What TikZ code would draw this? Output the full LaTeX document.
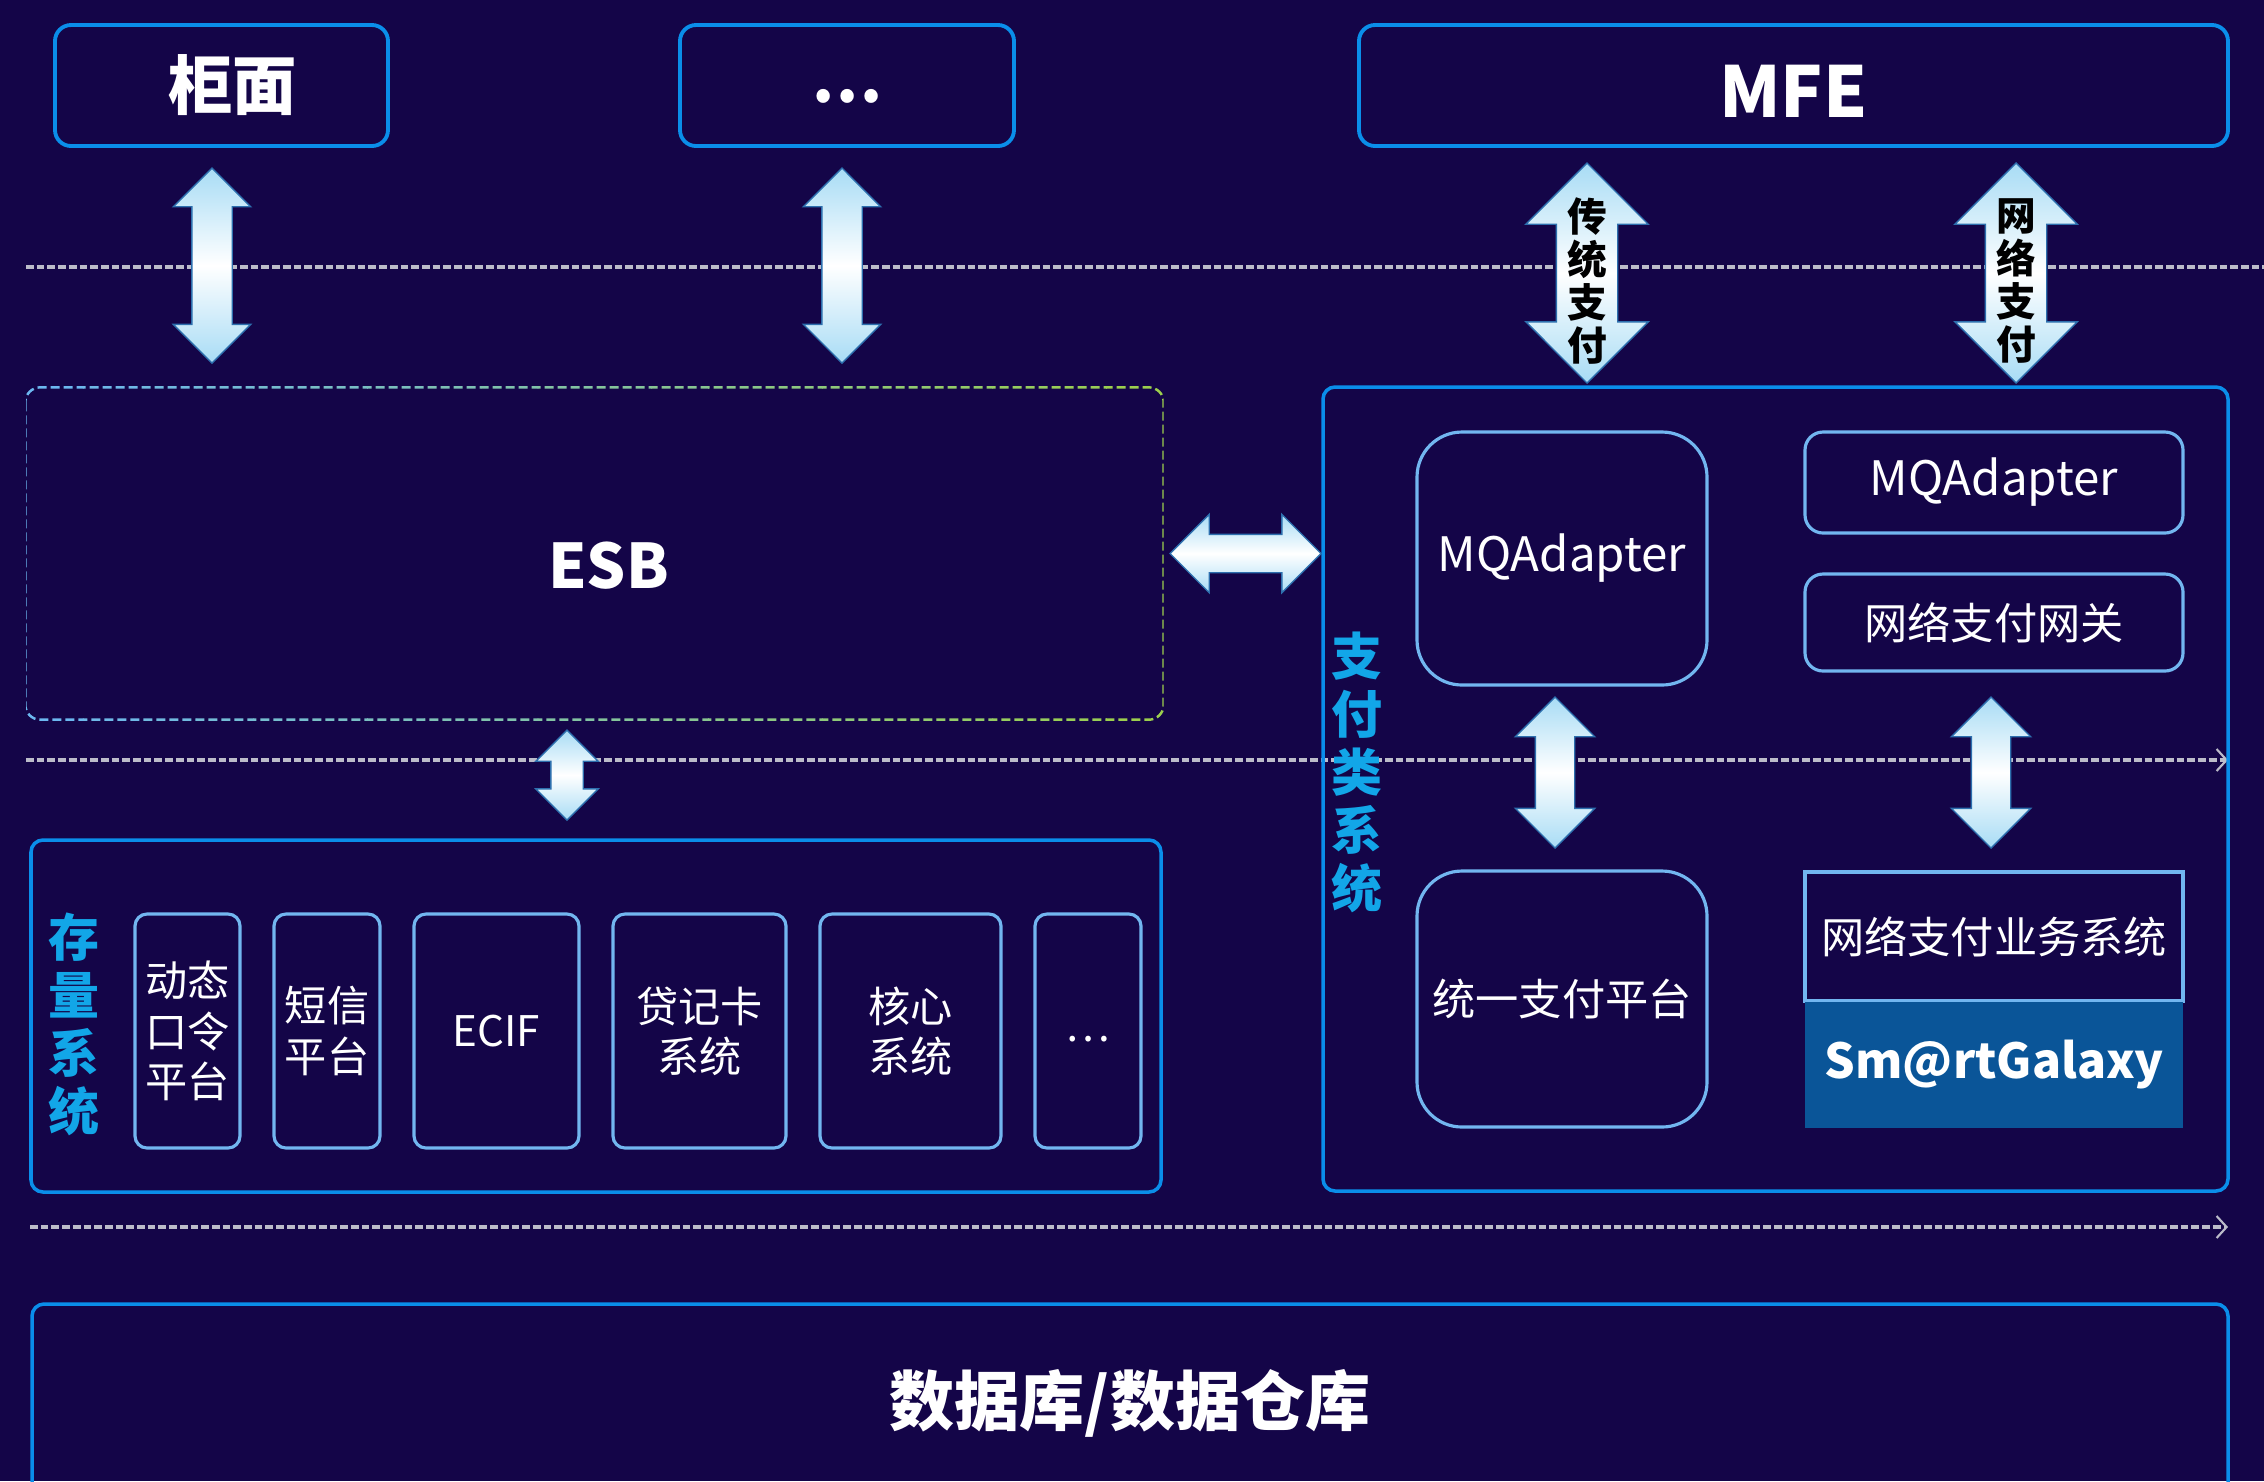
\documentclass[tikz,border=0pt]{standalone}
\usepackage{fontspec}
\setmainfont{Noto Sans CJK SC}
\usetikzlibrary{arrows.meta, positioning, shapes.arrows, calc}

\definecolor{bgnavy}{HTML}{140548}
\definecolor{boxblue}{HTML}{0A8EEA}
\definecolor{innerblue}{HTML}{72B6F0}
\definecolor{lblblue}{HTML}{12A6E8}
\definecolor{dashgray}{HTML}{BCBCCA}
\definecolor{arrowblue}{HTML}{A8DCF5}
\definecolor{arrowedge}{HTML}{2D6FAE}
\definecolor{galaxyblue}{HTML}{0A5598}
\definecolor{esbblue}{HTML}{6CB8F0}
\definecolor{esbgreen}{HTML}{9CCF4E}

% lower a text inside its node without changing the node box
\newcommand{\dropby}[2]{\raisebox{-#1}[\height][\depth]{#2}}

\begin{document}
\begin{tikzpicture}[
    x=0.1mm, y=-0.1mm,
    topbox/.style={rectangle, draw=boxblue, line width=1.1pt, rounded corners=1.6mm,
                   minimum height=12.1mm, outer sep=0pt, text=white},
    group/.style={rectangle, draw=boxblue, line width=1pt, rounded corners=1.2mm},
    sysbox/.style={rectangle, draw=innerblue, line width=0.9pt, rounded corners=1.2mm,
                   minimum height=23.4mm, inner sep=0pt, outer sep=0pt, text=white,
                   align=center, font=\fontsize{12}{14.3}\selectfont},
    paybox/.style={rectangle, draw=innerblue, line width=0.9pt, inner sep=0pt,
                   minimum width=37.8mm, outer sep=0pt, text=white,
                   font=\fontsize{12.3}{14}\selectfont},
    grouplbl/.style={text=lblblue, align=center, inner sep=0pt,
                     font=\bfseries\fontsize{14.5}{16.5}\selectfont},
    arrowlbl/.style={text=black, align=center, inner sep=0pt,
                     font=\bfseries\fontsize{11.3}{12.2}\selectfont},
    fatarrow/.style n args={3}{double arrow, draw=arrowedge, line width=0.4pt,
                   top color=arrowblue, bottom color=arrowblue, middle color=white,
                   inner xsep=0pt, minimum width=1pt,
                   minimum height=#1, inner ysep=#2, double arrow head extend=#3},
    sepline/.style={draw=dashgray, line width=1pt, dash pattern=on 0.77mm off 0.3mm},
    septip/.style={-{Straight Barb[length=1mm, width=2.2mm, line width=0.6pt]}},
    esbline/.style={line width=0.7pt, rounded corners=1.5mm, dash pattern=on 0.9mm off 0.4mm}
]

\fill[bgnavy] (0,0) rectangle (2264,1481);
\useasboundingbox (0,0) rectangle (2264,1481);
\clip (0,0) rectangle (2264,1481);

% layer separators
\coordinate (l1a) at (26,267);
\coordinate (l1b) at (2264,267);
\coordinate (l2a) at (26,760);
\coordinate (l2b) at (2228,760);
\coordinate (l3a) at (30,1227);
\coordinate (l3b) at (2228,1227);
\draw[sepline] (l1a) -- (l1b);
\draw[sepline, septip] (l2a) -- (l2b);
\draw[sepline, septip] (l3a) -- (l3b);

% channels
\node[topbox, minimum width=33.3mm, font=\bfseries\fontsize{18.3}{20}\selectfont]
    (guimian) at (221.5,85.5) {\hspace*{2.2mm}柜面};
\node[topbox, minimum width=33.4mm, right=29.2mm of guimian,
      font=\bfseries\fontsize{18}{20}\selectfont] (chdots) {\dropby{1.1mm}{…}};
\node[topbox, minimum width=86.9mm, right=34.5mm of chdots,
      font=\bfseries\fontsize{20}{22}\selectfont] (mfe) {\dropby{0.55mm}{MFE}};

% ESB
\node[minimum width=113.7mm, minimum height=33.1mm, text=white,
      font=\bfseries\fontsize{17.5}{20}\selectfont] (esb) at (594.5,553.5)
      {\hspace*{2.8mm}\dropby{1.2mm}{ESB}};
\foreach \i in {0,...,19}{
  \pgfmathsetmacro{\mixv}{100-5.26*\i}
  \begin{scope}
    \clip (26+\i*56.85,370) rectangle ++(57.5,370);
    \draw[esbline, draw=esbblue!\mixv!esbgreen] (esb.north west) rectangle (esb.south east);
  \end{scope}
}

% legacy systems
\node[group, minimum width=113mm, minimum height=35.2mm] (stock) at (596,1016) {};
\node[grouplbl] (stocklbl) at (74,1024) {存\\量\\系\\统};
\node[sysbox, minimum width=10.5mm] (otp) at (187.5,1031) {动态\\口令\\平台};
\node[sysbox, minimum width=10.6mm, right=3.4mm of otp] (sms) {短信\\平台};
\node[sysbox, minimum width=16.5mm, right=3.4mm of sms] (ecif) {ECIF};
\node[sysbox, minimum width=17.3mm, right=3.4mm of ecif] (credit) {贷记卡\\系统};
\node[sysbox, minimum width=18.1mm, right=3.4mm of credit] (core) {核心\\系统};
\node[sysbox, minimum width=10.6mm, right=3.4mm of core] (more) {\dropby{0.8mm}{…}};

% payment systems
\node[group, minimum width=90.5mm, minimum height=80.4mm] (pay) at (1775.5,789) {};
\node[grouplbl] (paylbl) at (1357,772) {支\\付\\类\\系\\统};
\node[paybox, minimum width=29mm, minimum height=25.3mm, rounded corners=4.5mm,
      font=\fontsize{13.5}{15}\selectfont] (mqa) at (1562,558.5) {MQAdapter};
\node[paybox, minimum width=29mm, minimum height=25.6mm, rounded corners=4.5mm]
    (upay) at (1562,999) {统一支付平台};
\node[paybox, minimum height=10.1mm, rounded corners=1.8mm,
      font=\fontsize{13.5}{15}\selectfont] (mqb) at (1994,482.5) {MQAdapter};
\node[paybox, minimum height=9.7mm, rounded corners=1.8mm, below=4.1mm of mqb]
    (gateway) {网络支付网关};
\node[paybox, minimum height=12.9mm] (npbiz) at (1994,936.5) {网络支付业务系统};
\node[fill=galaxyblue, minimum width=37.8mm, minimum height=12.6mm, inner sep=0pt,
      below=0pt of npbiz, text=white, font=\bfseries\fontsize{13.7}{16}\selectfont]
    (galaxy) {Sm@rtGalaxy};

% data layer
\node[group, minimum width=219.6mm, minimum height=19.8mm, text=white,
      font=\bfseries\fontsize{18.5}{20}\selectfont] (db) at (1130,1403) {数据库/数据仓库};

% links
\node[fatarrow={19.5mm}{1.95mm}{1.85mm}, rotate=90] (a-gm) at (212,265.5) {};
\node[fatarrow={19.5mm}{1.95mm}{1.85mm}, rotate=90] (a-dots) at (842,265.5) {};
\node[fatarrow={22mm}{3mm}{3.05mm}, rotate=90] (a-ct) at (1587,273) {};
\node[fatarrow={22mm}{3mm}{3.05mm}, rotate=90] (a-np) at (2016,273) {};
\node[fatarrow={15.1mm}{1.85mm}{2mm}] (a-esb) at (1245.5,553.5) {};
\node[fatarrow={9mm}{1.55mm}{1.5mm}, rotate=90] (a-stock) at (567,775) {};
\node[fatarrow={15.1mm}{1.9mm}{2mm}, rotate=90] (a-mq) at (1555,772.5) {};
\node[fatarrow={15.1mm}{1.9mm}{2mm}, rotate=90] (a-gw) at (1991,772.5) {};
\node[arrowlbl] (lbl-ct) at ($(a-ct)+(0,8)$) {传\\统\\支\\付};
\node[arrowlbl] (lbl-np) at ($(a-np)+(0,8)$) {网\\络\\支\\付};

\end{tikzpicture}
\end{document}
